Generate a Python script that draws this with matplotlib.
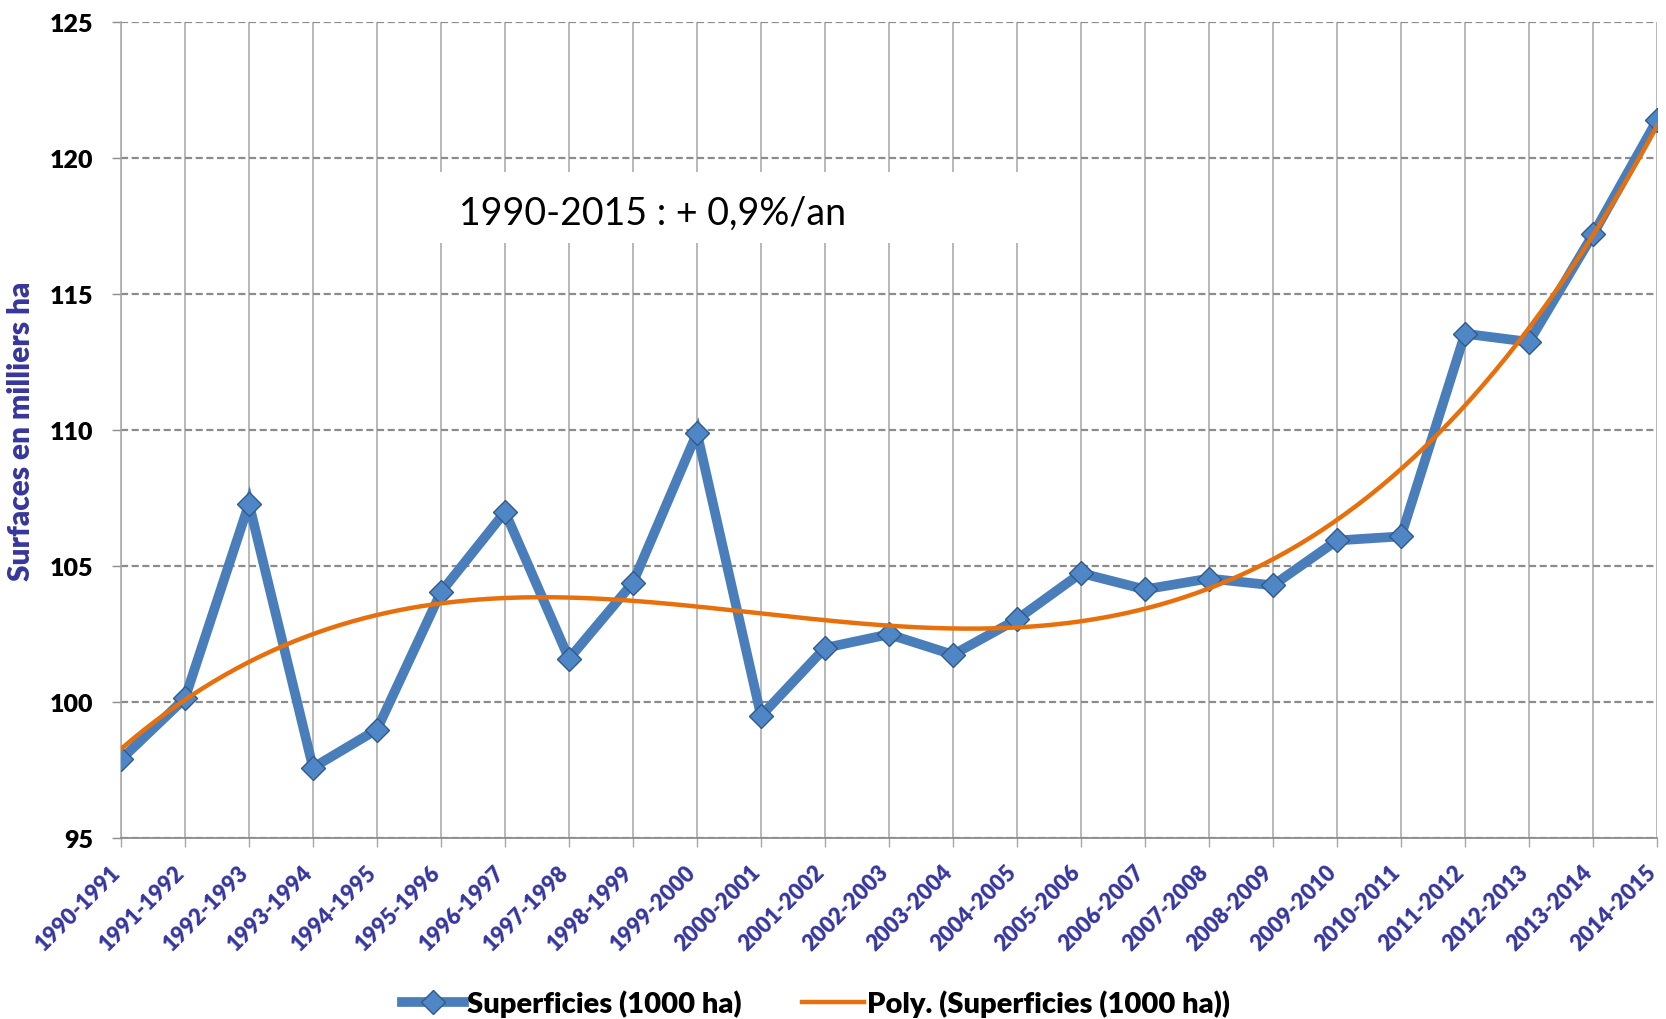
import numpy as np
import matplotlib
matplotlib.use("Agg")
import matplotlib.pyplot as plt
from matplotlib.patches import Rectangle
from matplotlib.transforms import ScaledTranslation

# ---- data ----
campaigns = ["1990-1991", "1991-1992", "1992-1993", "1993-1994", "1994-1995",
             "1995-1996", "1996-1997", "1997-1998", "1998-1999", "1999-2000",
             "2000-2001", "2001-2002", "2002-2003", "2003-2004", "2004-2005",
             "2005-2006", "2006-2007", "2007-2008", "2008-2009", "2009-2010",
             "2010-2011", "2011-2012", "2012-2013", "2013-2014", "2014-2015"]
superficies = [97.9, 100.15, 107.3, 97.6, 99.0,
               104.05, 107.0, 101.6, 104.4, 109.9,
               99.5, 102.0, 102.5, 101.75, 103.05,
               104.75, 104.15, 104.55, 104.3, 105.95,
               106.1, 113.55, 113.25, 117.2, 121.4]
y_ticks = [95, 100, 105, 110, 115, 120, 125]
annotation = "1990-2015 : + 0,9%/an"
series_label = "Superficies (1000 ha)"
trend_label = "Poly. (Superficies (1000 ha))"
y_label = "Surfaces en milliers ha"
trend_degree = 3

FONT = "Lato"
HEAVY = "heavy"
BLUE_TXT = "#36369E"
LINE_BLUE = "#4A7EBB"
ORANGE = "#E8700C"

fig = plt.figure(figsize=(16.66, 10.2), dpi=100)
ax = fig.add_axes([121 / 1666, 1 - 839.3 / 1020, 1536 / 1666, 816 / 1020])

x = np.arange(len(campaigns))
ax.set_xlim(0, len(campaigns) - 1)
ax.set_ylim(y_ticks[0], y_ticks[-1])

# grid
ax.set_yticks(y_ticks)
ax.set_xticks(x)
ax.yaxis.grid(True, linestyle=(0, (3.2, 1.6)), color="#8C8C8C", linewidth=1.6, zorder=0)
ax.xaxis.grid(True, linestyle="-", color="#A6A6A6", linewidth=1.1, zorder=0)
ax.set_axisbelow(True)
for s in ["top", "right"]:
    ax.spines[s].set_visible(False)
ax.spines["left"].set_color("#A6A6A6")
ax.spines["left"].set_linewidth(1.1)
ax.spines["bottom"].set_color("#8C8C8C")
ax.spines["bottom"].set_linewidth(1.3)

ax.tick_params(axis="y", direction="out", length=6.5, width=1.0, color="#8C8C8C",
               pad=13.5, labelsize=18, labelcolor="black")
ax.tick_params(axis="x", direction="out", length=6.5, width=1.0, color="#A6A6A6",
               pad=15, labelsize=15.8, labelcolor=BLUE_TXT)
ax.set_yticklabels([str(v) for v in y_ticks], fontfamily=FONT, fontweight=HEAVY)
ax.set_xticklabels(campaigns, fontfamily=FONT, fontweight=HEAVY, rotation=45,
                   ha="right", va="center", rotation_mode="anchor")
off = ScaledTranslation(-4 / 100, 0, fig.dpi_scale_trans)
for lab in ax.get_xticklabels():
    lab.set_transform(lab.get_transform() + off)

ax.set_ylabel(y_label, fontfamily=FONT, fontweight=HEAVY, fontsize=21.5, color=BLUE_TXT)
ax.yaxis.set_label_coords(-(121 - 35) / 1536, 0.5)

# annotation box
ax.add_patch(Rectangle(((410 - 121) / 1536, (839.3 - 244) / 816),
                       (1030 - 410) / 1536, 71 / 816, transform=ax.transAxes,
                       facecolor="white", edgecolor="none", zorder=1))
ax.text((459 - 121) / 1536, (839.3 - 225) / 816, annotation, transform=ax.transAxes,
        fontfamily=FONT, fontsize=27, color="black", va="baseline", ha="left", zorder=2)

# series
ax.plot(x, superficies, color=LINE_BLUE, linewidth=7, marker="D", markersize=12,
        markerfacecolor="#4F86C6", markeredgecolor="#30598C", markeredgewidth=1.0,
        label=series_label, zorder=3, solid_joinstyle="miter")

coef = np.polyfit(x, superficies, trend_degree)
xs = np.linspace(x[0], x[-1], 400)
ax.plot(xs, np.polyval(coef, xs), color=ORANGE, linewidth=3.2, label=trend_label, zorder=4)

fig.legend(loc="center", bbox_to_anchor=(816 / 1666, 1 - 1004 / 1020), ncol=2,
           frameon=False, prop={"family": FONT, "weight": HEAVY, "size": 21},
           handlelength=2.1, handletextpad=0.1, columnspacing=2.1)

fig.savefig("out.png", dpi=100)
